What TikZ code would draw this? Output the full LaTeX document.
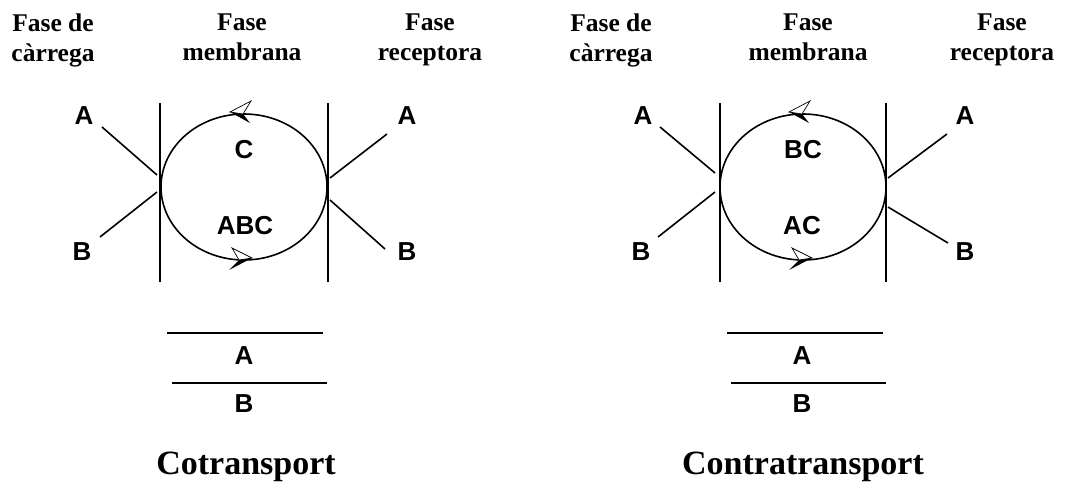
\documentclass[tikz,border=0pt]{standalone}
\usepackage{fontspec}
\usetikzlibrary{calc}
\setmainfont{Liberation Serif}
\newfontfamily\labelfont{Liberation Sans}
\begin{document}
\begin{tikzpicture}[x=1pt,y=-1pt,
  line/.style={line width=1.6pt},
  species/.style={font=\labelfont\fontsize{26}{26}\selectfont\bfseries, inner sep=0pt},
  phase/.style={font=\fontsize{25.5}{30}\selectfont\bfseries, align=center, inner sep=0pt, anchor=north},
  caption/.style={font=\fontsize{34}{34}\selectfont\bfseries, inner sep=0pt, anchor=base},
  barbwhite/.style={draw, fill=white, line width=0.7pt, line join=miter},
  barbblack/.style={fill=black}]
\useasboundingbox (0,0) rectangle (1065,486);

% ---------- phase headings ----------
\node[phase] (loadl) at (53,14) {Fase de\\càrrega};
\node[phase] (membl) at (242,14) {Fase\\membrana};
\node[phase] (recvl) at (430,14) {Fase\\receptora};
\node[phase] (loadr) at (611,14) {Fase de\\càrrega};
\node[phase] (membr) at (808,14) {Fase\\membrana};
\node[phase] (recvr) at (1002,14) {Fase\\receptora};

% ---------- carrier cycle, half-arrow on the circle ----------
% top barb points left, bottom barb points right
\newcommand{\topbarb}[1]{%
  \fill[barbblack] ($(#1)+(-12,-2)$) -- ($(#1)+(1,0)$) -- ($(#1)+(8,9)$) -- cycle;
  \draw[barbwhite] ($(#1)+(-12,-2)$) -- ($(#1)+(9,-13)$) -- ($(#1)+(1,0)$) -- cycle;}
\newcommand{\botbarb}[1]{%
  \fill[barbblack] ($(#1)+(12,-2)$) -- ($(#1)+(-1,0)$) -- ($(#1)+(-11,10)$) -- cycle;
  \draw[barbwhite] ($(#1)+(12,-2)$) -- ($(#1)+(-8,-12)$) -- ($(#1)+(-1,0)$) -- cycle;}

% ================= Cotransport =================
\coordinate (m1t) at (160,103); \coordinate (m1b) at (160,282);
\coordinate (m2t) at (328,103); \coordinate (m2b) at (328,282);
\draw[line] (m1t) -- (m1b);
\draw[line] (m2t) -- (m2b);
\draw[line] (244,187) ellipse [x radius=83, y radius=73];
\coordinate (ctop) at (242,114);
\coordinate (cbot) at (240,260);
\topbarb{ctop}
\botbarb{cbot}

\node[species] (lA) at (84,116) {A};
\node[species] (lB) at (82,252) {B};
\node[species] (rA) at (407,116) {A};
\node[species] (rB) at (407,252) {B};
\node[species] (cC) at (244,150) {C};
\node[species] (cABC) at (245,226) {ABC};

\coordinate (lAe) at (102,127); \coordinate (lAm) at (157,175);
\coordinate (lBe) at (100,237); \coordinate (lBm) at (157,192);
\coordinate (rAm) at (330,178); \coordinate (rAe) at (387,134);
\coordinate (rBm) at (330,200); \coordinate (rBe) at (385,249);
\draw[line] (lAe) -- (lAm);
\draw[line] (lBe) -- (lBm);
\draw[line] (rAm) -- (rAe);
\draw[line] (rBm) -- (rBe);

\coordinate (h1a) at (167,333); \coordinate (h1b) at (323,333);
\coordinate (h2a) at (172,383); \coordinate (h2b) at (327,383);
\draw[line] (h1a) -- (h1b);
\draw[line] (h2a) -- (h2b);
\node[species] (fA) at (244,356) {A};
\node[species] (fB) at (244,404) {B};
\node[caption] (co) at (246,474) {Cotransport};

% ================= Contratransport =================
\coordinate (n1t) at (720,103); \coordinate (n1b) at (720,282);
\coordinate (n2t) at (886,103); \coordinate (n2b) at (886,282);
\draw[line] (n1t) -- (n1b);
\draw[line] (n2t) -- (n2b);
\draw[line] (803,187) ellipse [x radius=83, y radius=73];
\coordinate (dtop) at (801,114);
\coordinate (dbot) at (800,260);
\topbarb{dtop}
\botbarb{dbot}

\node[species] (lA2) at (643,116) {A};
\node[species] (lB2) at (641,252) {B};
\node[species] (rA2) at (965,116) {A};
\node[species] (rB2) at (965,252) {B};
\node[species] (cBC) at (803,150) {BC};
\node[species] (cAC) at (802,226) {AC};

\coordinate (lAe2) at (660,127); \coordinate (lAm2) at (715,173);
\coordinate (lBe2) at (658,237); \coordinate (lBm2) at (715,192);
\coordinate (rAm2) at (888,178); \coordinate (rAe2) at (947,134);
\coordinate (rBm2) at (888,207); \coordinate (rBe2) at (948,243);
\draw[line] (lAe2) -- (lAm2);
\draw[line] (lBe2) -- (lBm2);
\draw[line] (rAm2) -- (rAe2);
\draw[line] (rBm2) -- (rBe2);

\coordinate (k1a) at (727,333); \coordinate (k1b) at (883,333);
\coordinate (k2a) at (731,383); \coordinate (k2b) at (886,383);
\draw[line] (k1a) -- (k1b);
\draw[line] (k2a) -- (k2b);
\node[species] (gA) at (802,356) {A};
\node[species] (gB) at (802,404) {B};
\node[caption] (ct) at (803,474) {Contratransport};
\end{tikzpicture}
\end{document}
